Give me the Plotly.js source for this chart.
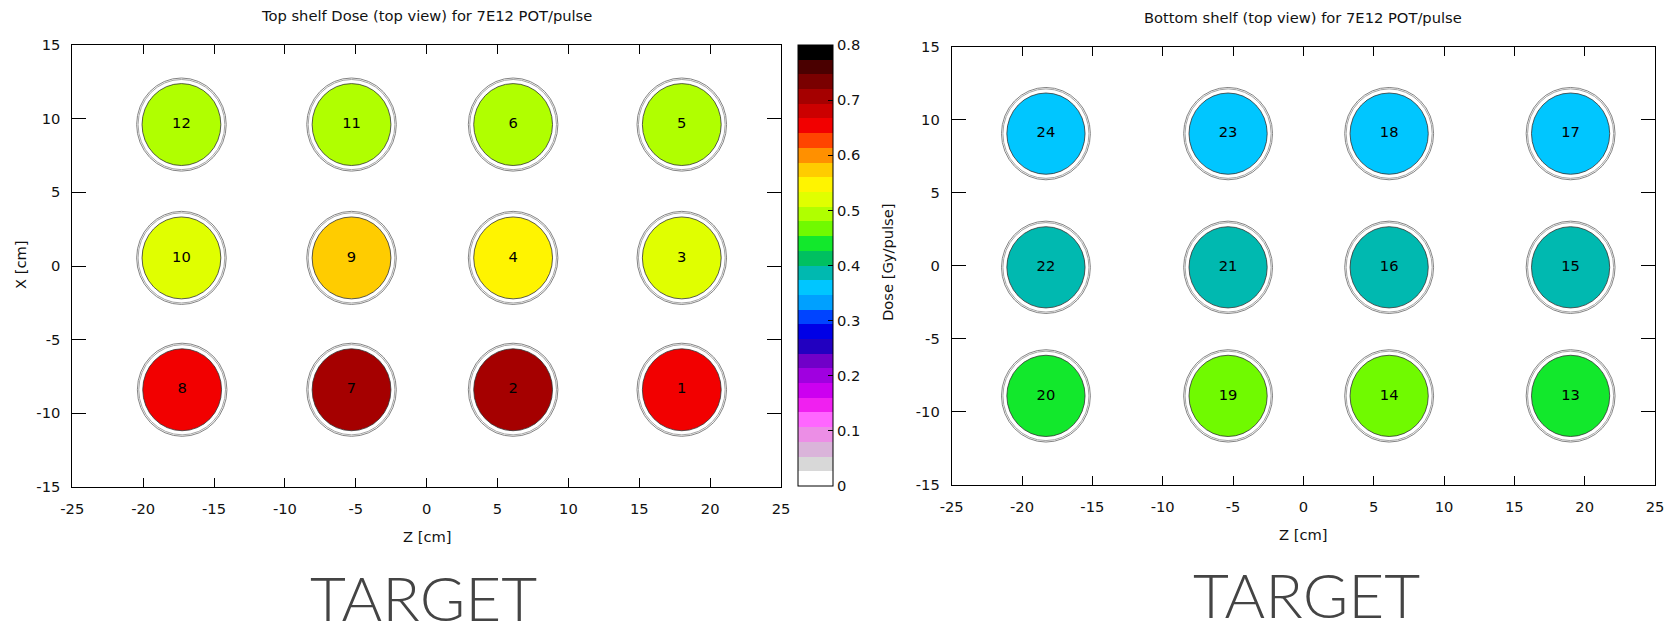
<!DOCTYPE html>
<html>
<head>
<meta charset="utf-8">
<script src="https://cdn.plot.ly/plotly-3.0.1.min.js"></script>
<style>html,body{margin:0;padding:0;background:#fff;}#chart{width:1665px;height:633px;}</style>
</head>
<body>
<div id="chart"></div>
<script>
// ---- data ----
const topIds  = [12, 11, 6, 5, 10, 9, 4, 3, 8, 7, 2, 1];
const topZ    = [-17.3, -5.3, 6.1, 18.0, -17.3, -5.3, 6.1, 18.0, -17.25, -5.3, 6.1, 18.0];
const topX    = [9.6, 9.6, 9.6, 9.6, 0.55, 0.55, 0.55, 0.55, -8.4, -8.4, -8.4, -8.4];
const topDose = [0.49, 0.49, 0.49, 0.49, 0.52, 0.575, 0.545, 0.52, 0.655, 0.705, 0.705, 0.655];

const botIds  = [24, 23, 18, 17, 22, 21, 16, 15, 20, 19, 14, 13];
const botZ    = [-18.3, -5.35, 6.1, 19.0, -18.3, -5.35, 6.1, 19.0, -18.3, -5.35, 6.1, 19.0];
const botX    = [9.05, 9.05, 9.05, 9.05, -0.1, -0.1, -0.1, -0.1, -8.9, -8.9, -8.9, -8.9];
const botDose = [0.36, 0.36, 0.36, 0.36, 0.385, 0.385, 0.385, 0.385, 0.44, 0.465, 0.465, 0.44];

const zTicks = [-25, -20, -15, -10, -5, 0, 5, 10, 15, 20, 25];
const zTickLabels = ['-25', '-20', '-15', '-10', '-5', '0', '5', '10', '15', '20', '25'];
const xTicks = [-15, -10, -5, 0, 5, 10, 15];
const xTickLabels = ['-15', '-10', '-5', '0', '5', '10', '15'];
const doseTicks = [0, 0.1, 0.2, 0.3, 0.4, 0.5, 0.6, 0.7, 0.8];
const doseTickLabels = ['0', '0.1', '0.2', '0.3', '0.4', '0.5', '0.6', '0.7', '0.8'];

const doseMin = 0, doseMax = 0.8;
// palette bands from 0 (bottom) to 0.8 (top)
const palette = ['#ffffff','#d8d8d8','#dab4da','#ec8ee6','#ff66ff','#f020f0','#cc00f0','#a000e0',
  '#7000c8','#2200c0','#0000e6','#0044ff','#00a0ff','#00c6ff','#00b9b0','#00c060','#12e82c',
  '#70fa00','#b0ff00','#e0ff00','#fff400','#ffcc00','#ff9000','#ff4400','#f20000','#cc0000',
  '#a50000','#7a0000','#4a0000','#000000'];
const xTitle = 'Z [cm]', yTitle = 'X [cm]', cbTitle = 'Dose [Gy/pulse]';
const topTitle = 'Top shelf Dose (top view) for 7E12 POT/pulse';
const botTitle = 'Bottom shelf (top view) for 7E12 POT/pulse';
const footText = 'TARGET';

// ---- helpers ----
const W = 1665, H = 633;
const px = v => v / W, py = v => 1 - v / H;
const nb = palette.length;
const colorscale = [];
palette.forEach((c, i) => { colorscale.push([i / nb, c]); colorscale.push([(i + 1) / nb, c]); });
function colorOf(v) {
  let k = Math.floor((v - doseMin) / (doseMax - doseMin) * nb);
  k = Math.max(0, Math.min(nb - 1, k));
  return palette[k];
}
const rIn = 2.78, rOut1 = 3.06, rOut2 = 3.16;
const font = 'DejaVu Sans, sans-serif';
const fs = 14.7;

const shapes = [];
function addCircles(zs, xs, ds, xr, yr) {
  zs.forEach((z, i) => {
    const x = xs[i];
    shapes.push({type:'circle', xref:xr, yref:yr, layer:'below', x0:z-rOut2, x1:z+rOut2, y0:x-rOut2, y1:x+rOut2,
      line:{color:'#858585', width:1}, fillcolor:'rgba(0,0,0,0)'});
    shapes.push({type:'circle', xref:xr, yref:yr, layer:'below', x0:z-rOut1, x1:z+rOut1, y0:x-rOut1, y1:x+rOut1,
      line:{color:'#9a9a9a', width:0.9}, fillcolor:'rgba(0,0,0,0)'});
    shapes.push({type:'circle', xref:xr, yref:yr, layer:'below', x0:z-rIn, x1:z+rIn, y0:x-rIn, y1:x+rIn,
      line:{color:'#333333', width:0.8}, fillcolor:colorOf(ds[i])});
  });
}
addCircles(topZ, topX, topDose, 'x', 'y');
addCircles(botZ, botX, botDose, 'x2', 'y2');

const traces = [
  {type:'scatter', x:topZ, y:topX, xaxis:'x', yaxis:'y', mode:'markers+text',
   text:topIds.map(String), textposition:'middle center', textfont:{family:font, size:fs, color:'#000'},
   hoverinfo:'skip', showlegend:false,
   marker:{size:1, opacity:0, color:topDose, colorscale:colorscale, cmin:doseMin, cmax:doseMax, showscale:true,
     colorbar:{x:px(798), xanchor:'left', xref:'paper', y:py(45), yanchor:'top', yref:'paper',
       len:441, lenmode:'pixels', thickness:35, thicknessmode:'pixels', xpad:0, ypad:0,
       outlinewidth:1, outlinecolor:'#000', ticks:'inside', ticklen:5, tickcolor:'#000',
       tickmode:'array', tickvals:doseTicks, ticktext:doseTickLabels,
       tickfont:{family:font, size:fs, color:'#111'}}}},
  {type:'scatter', x:botZ, y:botX, xaxis:'x2', yaxis:'y2', mode:'markers+text',
   text:botIds.map(String), textposition:'middle center', textfont:{family:font, size:fs, color:'#000'},
   hoverinfo:'skip', showlegend:false,
   marker:{size:1, opacity:0, color:botDose, colorscale:colorscale, cmin:doseMin, cmax:doseMax, showscale:false}}
];

function axis(domain, range, anchor, tlen, tv, tt) {
  return {domain:domain, range:range, anchor:anchor, showgrid:false, zeroline:false,
    showline:true, linecolor:'#000', linewidth:1, mirror:'ticks', ticks:'inside', ticklen:tlen,
    tickcolor:'#000', tickwidth:1, tickmode:'array', tickvals:tv, ticktext:tt,
    tickfont:{family:font, size:fs, color:'#111'}, ticklabelstandoff:8, fixedrange:true};
}

const layout = {
  width:W, height:H, margin:{l:0, r:0, t:0, b:0}, paper_bgcolor:'#fff', plot_bgcolor:'#fff',
  showlegend:false,
  xaxis: axis([px(72.3), px(781)], [-25, 25], 'y', 9, zTicks, zTickLabels),
  yaxis: axis([1 - 487/H, 1 - 45/H], [-15, 15], 'x', 14, xTicks, xTickLabels),
  xaxis2: axis([px(951.7), px(1655)], [-25, 25], 'y2', 9, zTicks, zTickLabels),
  yaxis2: axis([1 - 485/H, 1 - 46.7/H], [-15, 15], 'x2', 14, xTicks, xTickLabels),
  shapes: shapes,
  annotations: [
    {text:topTitle, xref:'paper', yref:'paper', x:px(426.5), y:py(15), xanchor:'center', yanchor:'middle', showarrow:false, font:{family:font, size:fs, color:'#111'}},
    {text:botTitle, xref:'paper', yref:'paper', x:px(1303), y:py(17), xanchor:'center', yanchor:'middle', showarrow:false, font:{family:font, size:fs, color:'#111'}},
    {text:xTitle, xref:'paper', yref:'paper', x:px(427), y:py(536), xanchor:'center', yanchor:'middle', showarrow:false, font:{family:font, size:fs, color:'#111'}},
    {text:xTitle, xref:'paper', yref:'paper', x:px(1303), y:py(534), xanchor:'center', yanchor:'middle', showarrow:false, font:{family:font, size:fs, color:'#111'}},
    {text:yTitle, xref:'paper', yref:'paper', x:px(21), y:py(265), xanchor:'center', yanchor:'middle', textangle:-90, showarrow:false, font:{family:font, size:fs, color:'#111'}},
    {text:cbTitle, xref:'paper', yref:'paper', x:px(887), y:py(262), xanchor:'center', yanchor:'middle', textangle:-90, showarrow:false, font:{family:font, size:fs, color:'#111'}},
    {text:footText, xref:'paper', yref:'paper', x:px(423), y:py(597), xanchor:'center', yanchor:'middle', showarrow:false, font:{family:'Lato, sans-serif', size:62, weight:300, color:'#444'}},
    {text:footText, xref:'paper', yref:'paper', x:px(1306), y:0, xanchor:'center', yanchor:'bottom', showarrow:false, font:{family:'Lato, sans-serif', size:62, weight:300, color:'#444'}}
  ]
};

Plotly.newPlot('chart', traces, layout, {staticPlot:true, displayModeBar:false});
</script>
</body>
</html>
